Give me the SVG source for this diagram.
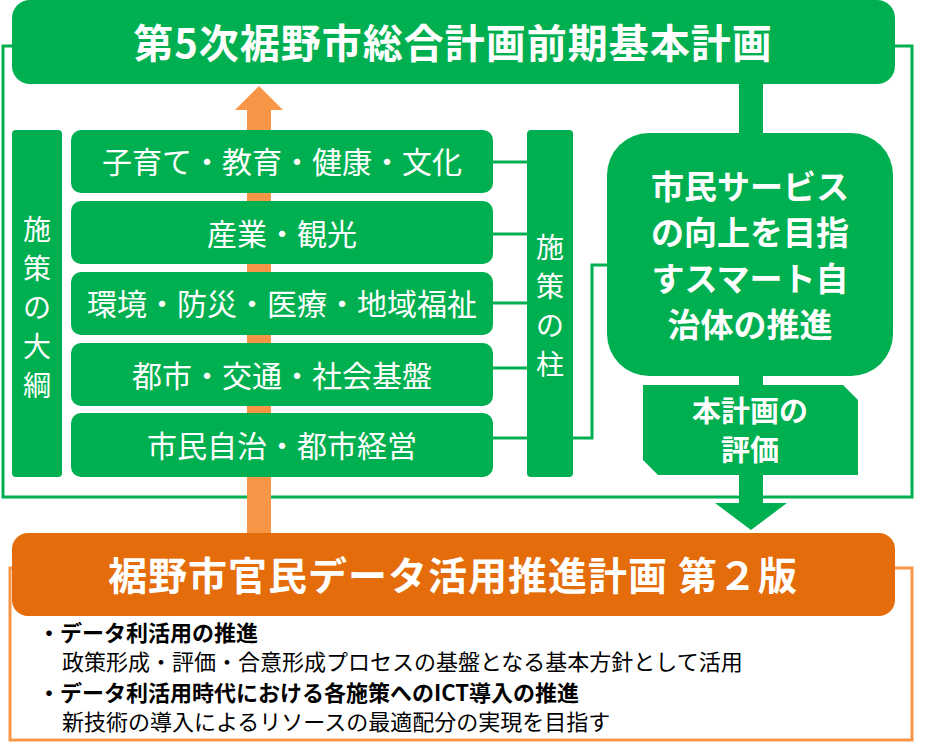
<svg xmlns="http://www.w3.org/2000/svg" width="935" height="751" viewBox="0 0 935 751">
<style>
.g{fill:#00B050}
.t{fill:#fff;font-family:"Noto Sans CJK JP","Noto Sans",sans-serif;text-anchor:middle}
.ln{stroke:#00B050;stroke-width:3;fill:none}
.b{font-family:"Noto Sans CJK JP","Noto Sans",sans-serif;font-size:22px;fill:#000}
</style>
<rect width="935" height="751" fill="#fff"/>
<g id="connectors">
<rect class="ln" x="3" y="46" width="909" height="451"/>
<polygon points="247,540 247,110 235,110 259,86 283,110 271,110 271,540" fill="#F79646"/>
<rect x="739" y="80" width="24" height="56" class="g"/>
<rect x="739" y="370" width="24" height="20" class="g"/>
<polygon points="739,470 763,470 763,503 787,503 751,530 715,503 739,503" class="g"/>
<path class="ln" d="M492,162H527M492,234H527M492,303H527M492,368H527M492,438H527"/>
<path class="ln" d="M572,438H592V265H610"/>
</g>
<g id="title"><rect x="12" y="0" width="883" height="84" rx="18" class="g"/>
<text class="t" x="453" y="58" font-size="40" font-weight="bold" letter-spacing="1">第5次裾野市総合計画前期基本計画</text></g>
<g id="taiko"><rect x="12" y="130" width="50" height="347" rx="4" class="g"/>
<text class="t" font-size="28"><tspan x="37" y="240">施</tspan><tspan x="37" y="279">策</tspan><tspan x="37" y="318">の</tspan><tspan x="37" y="357">大</tspan><tspan x="37" y="396">綱</tspan></text></g>
<g id="r1"><rect x="71" y="130" width="422" height="63" rx="10" class="g"/><text class="t" x="282" y="173" font-size="30">子育て・教育・健康・文化</text></g>
<g id="r2"><rect x="71" y="201" width="422" height="63" rx="10" class="g"/><text class="t" x="282" y="245" font-size="30">産業・観光</text></g>
<g id="r3"><rect x="71" y="272" width="422" height="63" rx="10" class="g"/><text class="t" x="282" y="315" font-size="30">環境・防災・医療・地域福祉</text></g>
<g id="r4"><rect x="71" y="343" width="422" height="63" rx="10" class="g"/><text class="t" x="282" y="387" font-size="30">都市・交通・社会基盤</text></g>
<g id="r5"><rect x="71" y="413" width="422" height="64" rx="10" class="g"/><text class="t" x="282" y="457" font-size="30">市民自治・都市経営</text></g>
<g id="hashira"><rect x="527" y="130" width="46" height="347" rx="4" class="g"/>
<text class="t" font-size="28"><tspan x="550" y="258">施</tspan><tspan x="550" y="297">策</tspan><tspan x="550" y="336">の</tspan><tspan x="550" y="375">柱</tspan></text></g>
<g id="smart"><rect x="607" y="133" width="286" height="243" rx="42" class="g"/>
<text class="t" font-size="33" font-weight="bold"><tspan x="750" y="199">市民サービス</tspan><tspan x="750" y="245">の向上を目指</tspan><tspan x="750" y="291">すスマート自</tspan><tspan x="750" y="337">治体の推進</tspan></text></g>
<g id="eval"><polygon points="643,385 843,385 858,400 858,475 658,475 643,460" class="g"/>
<text class="t" font-size="29" font-weight="bold"><tspan x="750" y="422">本計画の</tspan><tspan x="750" y="461">評価</tspan></text></g>
<g id="data"><rect x="10" y="568" width="902" height="172" fill="none" stroke="#F79646" stroke-width="3"/>
<rect x="12" y="533" width="883" height="83" rx="16" fill="#E46C0A"/>
<text class="t" x="453" y="590" font-size="39" font-weight="bold" letter-spacing="1">裾野市官民データ活用推進計画  第２版</text>
<text class="b" x="38" y="641" font-weight="bold">・データ利活用の推進</text>
<text class="b" x="62" y="670" font-size="23">政策形成・評価・合意形成プロセスの基盤となる基本方針として活用</text>
<text class="b" x="38" y="701" font-weight="bold">・データ利活用時代における各施策へのICT導入の推進</text>
<text class="b" x="62" y="730" font-size="23">新技術の導入によるリソースの最適配分の実現を目指す</text></g>
</svg>
